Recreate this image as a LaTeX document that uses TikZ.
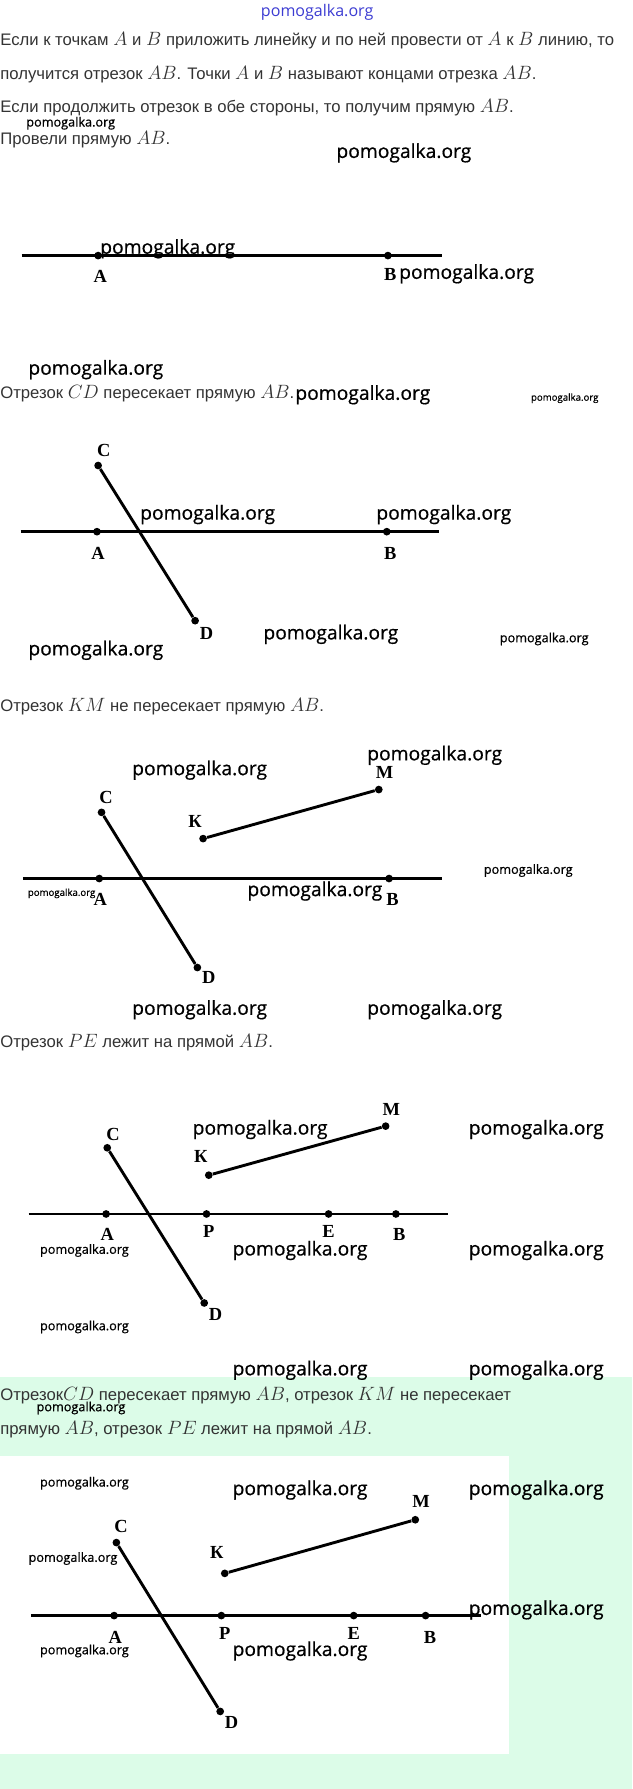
\documentclass[tikz,border=0pt]{standalone}
\usepackage[no-math]{fontspec}
\usepackage{xcolor}
\setmainfont{Liberation Sans}
\newfontfamily\wmfont[FakeBold=0.6]{Open Sans}
\newfontfamily\bluefont{Open Sans}
\newfontfamily\lblfont{Liberation Serif}
\definecolor{mintgreen}{RGB}{220,252,232}
\definecolor{textgray}{RGB}{51,51,51}
\definecolor{wmblue}{RGB}{60,60,210}
\newcommand{\mv}[1]{{\fontsize{12}{12}\selectfont$#1$}}

\tikzset{
  segline/.style={line width=1.8pt,black},
  ptdot/.style={circle,fill=black,inner sep=0pt,minimum size=4.8pt},
  ptlabel/.style={font=\lblfont\bfseries\fontsize{11.5}{13}\selectfont,inner sep=0pt},
  txtline/.style={anchor=west,inner sep=0pt,text=textgray,font=\fontsize{10.4}{12}\selectfont},
  wmbig/.style={font=\wmfont\fontsize{12}{14}\selectfont,inner sep=0pt},
  wmsmall/.style={font=\wmfont\fontsize{7.9}{9}\selectfont,inner sep=0pt},
  wmtiny/.style={font=\wmfont\fontsize{6}{7}\selectfont,inner sep=0pt}
}

\begin{document}
\begin{tikzpicture}[x=0.025cm,y=-0.025cm]
\useasboundingbox (0,0) rectangle (554,1568);

% Background of the last block
\fill[mintgreen] (0,1207) rectangle (554,1568);
\fill[white] (0,1276) rectangle (446,1537);

% Text
\node[font=\bluefont\fontsize{10}{12}\selectfont,text=wmblue,inner sep=0pt] (site) at (278,11) {pomogalka.org};
\node[txtline] (t1) at (0,36) {Если к точкам \mv{A} и \mv{B} приложить линейку и по ней провести от \mv{A} к \mv{B} линию, то};
\node[txtline] (t2) at (0,65) {получится отрезок \mv{AB}. Точки \mv{A} и \mv{B} называют концами отрезка \mv{AB}.};
\node[txtline] (t3) at (0,94) {Если продолжить отрезок в обе стороны, то получим прямую \mv{AB}.};
\node[txtline] (t4) at (0,122) {Провели прямую \mv{AB}.};
\node[txtline] (t5) at (0,345) {Отрезок \mv{CD} пересекает прямую \mv{AB}.};
\node[txtline] (t6) at (0,619) {Отрезок \mv{KM} не пересекает прямую \mv{AB}.};
\node[txtline] (t7) at (0,914) {Отрезок \mv{PE} лежит на прямой \mv{AB}.};
\node[txtline] (t8) at (0,1223) {Отрезок\mv{CD} пересекает прямую \mv{AB}, отрезок \mv{KM} не пересекает};
\node[txtline] (t9) at (0,1253) {прямую \mv{AB}, отрезок \mv{PE} лежит на прямой \mv{AB}.};

% Line AB
\begin{scope}[shift={(0,224)}]
    \coordinate (L1) at (19,0);
    \coordinate (R1) at (387,0);
    \draw[segline] (L1) -- (R1);
    \node[ptdot] (A1) at (86,0) {};
    \node[ptdot] (B1) at (340,0) {};
    \node[ptlabel] (a1) at (88,18) {A};
    \node[ptlabel] (b1) at (342,17) {B};
\end{scope}

% Segment CD crosses AB
\begin{scope}[shift={(0,466)}]
    \coordinate (L2) at (18,0);
    \coordinate (R2) at (385,0);
    \draw[segline] (L2) -- (R2);
    \node[ptdot] (A2) at (85,0) {};
    \node[ptdot] (B2) at (339,0) {};
    \node[ptdot] (C2) at (86,-58) {};
    \node[ptdot] (D2) at (171,78) {};
    \draw[segline] (C2) -- (D2);
    \node[ptlabel] (a2) at (86,19) {A};
    \node[ptlabel] (b2) at (342,19) {B};
    \node[ptlabel] (c2) at (91,-71) {C};
    \node[ptlabel] (d2) at (181,89) {D};
\end{scope}

% Segment KM
\begin{scope}[shift={(0,770)}]
    \coordinate (L3) at (20,0);
    \coordinate (R3) at (387,0);
    \draw[segline] (L3) -- (R3);
    \node[ptdot] (A3) at (87,0) {};
    \node[ptdot] (B3) at (341,0) {};
    \node[ptdot] (C3) at (89,-58) {};
    \node[ptdot] (D3) at (173,78) {};
    \node[ptdot] (K3) at (178,-35) {};
    \node[ptdot] (M3) at (332,-78) {};
    \draw[segline] (C3) -- (D3);
    \draw[segline] (K3) -- (M3);
    \node[ptlabel] (a3) at (88,18) {A};
    \node[ptlabel] (b3) at (344,18) {B};
    \node[ptlabel] (c3) at (93,-71) {C};
    \node[ptlabel] (d3) at (183,87) {D};
    \node[ptlabel] (k3) at (171,-50) {К};
    \node[ptlabel] (m3) at (337,-93) {M};
\end{scope}

% Segment PE on AB
\begin{scope}[shift={(0,1064)}]
    \coordinate (L4) at (25,0);
    \coordinate (R4) at (393,0);
    \draw[segline] (L4) -- (R4);
    \node[ptdot] (A4) at (93,0) {};
    \node[ptdot] (P4) at (181,0) {};
    \node[ptdot] (E4) at (288,0) {};
    \node[ptdot] (B4) at (347,0) {};
    \node[ptdot] (C4) at (94,-58) {};
    \node[ptdot] (D4) at (179,78) {};
    \node[ptdot] (K4) at (183,-34) {};
    \node[ptdot] (M4) at (338,-77) {};
    \draw[segline] (C4) -- (D4);
    \draw[segline] (K4) -- (M4);
    \node[ptlabel] (a4) at (94,18) {A};
    \node[ptlabel] (p4) at (183,15) {P};
    \node[ptlabel] (e4) at (288,15) {E};
    \node[ptlabel] (b4) at (350,18) {B};
    \node[ptlabel] (c4) at (99,-70) {C};
    \node[ptlabel] (d4) at (189,88) {D};
    \node[ptlabel] (k4) at (176,-50) {К};
    \node[ptlabel] (m4) at (343,-92) {M};
\end{scope}

% All together
\begin{scope}[shift={(0,1416)}]
    \coordinate (L5) at (27,0);
    \coordinate (R5) at (422,0);
    \draw[segline] (L5) -- (R5);
    \node[ptdot] (A5) at (100,0) {};
    \node[ptdot] (P5) at (194,0) {};
    \node[ptdot] (E5) at (310,0) {};
    \node[ptdot] (B5) at (373,0) {};
    \node[ptdot] (C5) at (102,-64) {};
    \node[ptdot] (D5) at (193,84) {};
    \node[ptdot] (K5) at (197,-37) {};
    \node[ptdot] (M5) at (364,-84) {};
    \draw[segline] (C5) -- (D5);
    \draw[segline] (K5) -- (M5);
    \node[ptlabel] (a5) at (101,19) {A};
    \node[ptlabel] (p5) at (197,16) {P};
    \node[ptlabel] (e5) at (310,16) {E};
    \node[ptlabel] (b5) at (377,19) {B};
    \node[ptlabel] (c5) at (106,-78) {C};
    \node[ptlabel] (d5) at (203,94) {D};
    \node[ptlabel] (k5) at (190,-55) {К};
    \node[ptlabel] (m5) at (369,-100) {M};
\end{scope}

% Watermarks
\foreach \x/\y [count=\i] in {354/134, 147/218, 409/240, 84/324, 318/346,
    182/451, 389/451, 290/556, 84/570,
    175/675, 381/662, 276/781, 175/885, 381/885,
    228/990, 470/990, 263/1096, 470/1096, 263/1201, 470/1201,
    263/1306, 470/1306, 470/1411, 263/1447}
    \node[wmbig] (wb\i) at (\x,\y) {pomogalka.org};
\foreach \x/\y [count=\i] in {62/108, 477/560, 463/763, 74/1096, 74/1163,
    71/1234, 74/1300, 64/1366, 74/1447}
    \node[wmsmall] (ws\i) at (\x,\y) {pomogalka.org};
\foreach \x/\y [count=\i] in {495/349, 54/783}
    \node[wmtiny] (wt\i) at (\x,\y) {pomogalka.org};
\end{tikzpicture}
\end{document}
